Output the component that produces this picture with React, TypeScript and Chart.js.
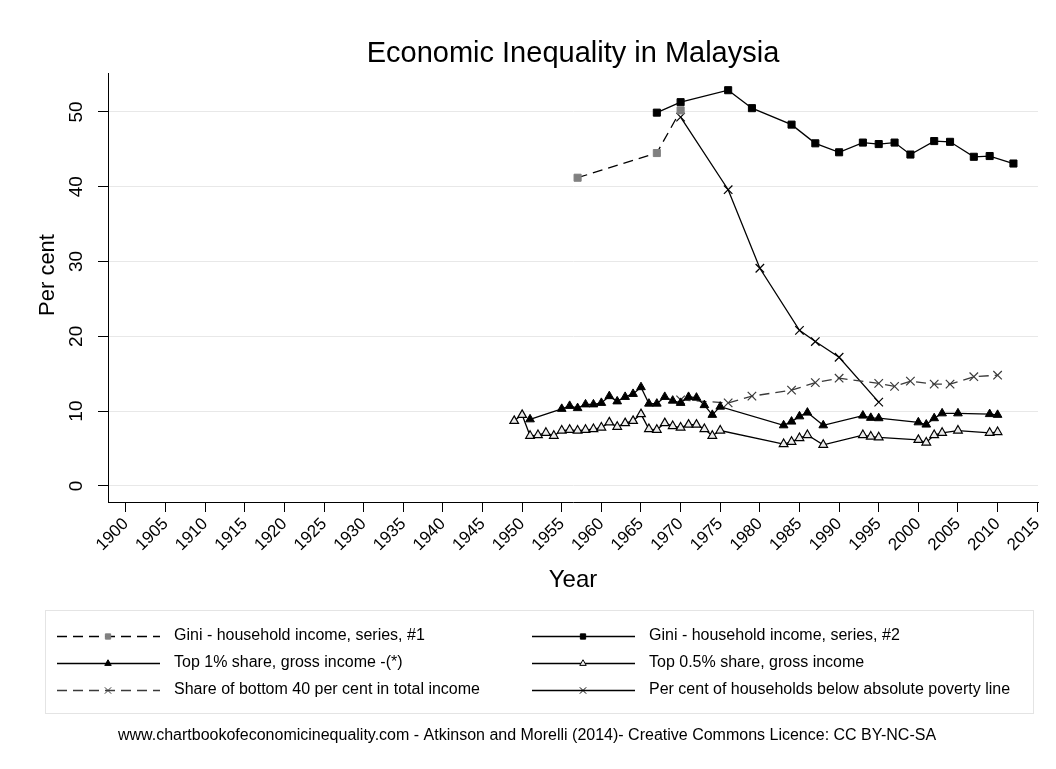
import React, { useEffect, useRef } from "react";
import { Chart, registerables } from "chart.js";
import { drawPoint } from "chart.js/helpers";

Chart.register(...registerables);

const FONT = "'Liberation Sans', Arial, Helvetica, sans-serif";

const TITLE = "Economic Inequality in Malaysia";
const Y_TITLE = "Per cent";
const X_TITLE = "Year";
const FOOTNOTE =
  "www.chartbookofeconomicinequality.com - Atkinson and Morelli (2014)- Creative Commons Licence: CC BY-NC-SA";

const xTickValues = [
  1900, 1905, 1910, 1915, 1920, 1925, 1930, 1935, 1940, 1945, 1950, 1955, 1960,
  1965, 1970, 1975, 1980, 1985, 1990, 1995, 2000, 2005, 2010, 2015,
];
const yTickValues = [0, 10, 20, 30, 40, 50];

// Gini - household income, series #1
const giniAYears = [1957, 1967, 1970];
const giniAValues = [41.2, 44.5, 50.2];

// Gini - household income, series #2
const giniBYears = [1967, 1970, 1976, 1979, 1984, 1987, 1990, 1993, 1995, 1997, 1999, 2002, 2004, 2007, 2009, 2012];
const giniBValues = [49.9, 51.3, 52.9, 50.5, 48.3, 45.8, 44.6, 45.9, 45.7, 45.9, 44.3, 46.1, 46.0, 44.0, 44.1, 43.1];

// Top 1% share, gross income
const top1Years = [
  1951, 1955, 1956, 1957, 1958, 1959, 1960, 1961, 1962, 1963, 1964, 1965, 1966, 1967, 1968, 1969, 1970, 1971,
  1972, 1973, 1974, 1975, 1983, 1984, 1985, 1986, 1988, 1993, 1994, 1995, 2000, 2001, 2002, 2003, 2005, 2009, 2010,
];
const top1Values = [
  8.9, 10.3, 10.7, 10.4, 10.9, 10.9, 11.1, 12.0, 11.3, 11.9, 12.3, 13.2, 11.0, 11.0, 11.9, 11.4, 11.1, 11.9,
  11.8, 10.8, 9.5, 10.6, 8.1, 8.6, 9.3, 9.8, 8.1, 9.4, 9.1, 9.05, 8.5, 8.2, 9.05, 9.7, 9.7, 9.6, 9.5,
];

// Top 0.5% share, gross income
const top05Years = [
  1949, 1950, 1951, 1952, 1953, 1954, 1955, 1956, 1957, 1958, 1959, 1960, 1961, 1962, 1963, 1964, 1965, 1966,
  1967, 1968, 1969, 1970, 1971, 1972, 1973, 1974, 1975, 1983, 1984, 1985, 1986, 1988, 1993, 1994, 1995, 2000,
  2001, 2002, 2003, 2005, 2009, 2010,
];
const top05Values = [
  8.7, 9.5, 6.7, 6.8, 7.1, 6.7, 7.4, 7.5, 7.4, 7.5, 7.6, 7.8, 8.5, 7.9, 8.4, 8.7, 9.6, 7.6,
  7.5, 8.4, 8.0, 7.8, 8.2, 8.2, 7.6, 6.7, 7.4, 5.6, 5.9, 6.4, 6.8, 5.5, 6.8, 6.6, 6.5, 6.15,
  5.8, 6.8, 7.1, 7.4, 7.1, 7.2,
];

// Share of bottom 40 per cent in total income
const bottom40Years = [1970, 1976, 1979, 1984, 1987, 1990, 1995, 1997, 1999, 2002, 2004, 2007, 2010];
const bottom40Values = [11.5, 11.1, 12.0, 12.8, 13.8, 14.4, 13.7, 13.3, 14.0, 13.6, 13.6, 14.6, 14.8];

// Per cent of households below absolute poverty line
const povertyYears = [1970, 1976, 1980, 1985, 1987, 1990, 1995];
const povertyValues = [49.3, 39.6, 29.1, 20.8, 19.3, 17.2, 11.2];

const seriesLabels = [
  "Gini - household income, series, #1",
  "Gini - household income, series, #2",
  "Top 1% share, gross income -(*)",
  "Top 0.5% share, gross income",
  "Share of bottom 40 per cent in total income",
  "Per cent of households below absolute poverty line",
];

const toPoints = (xs: number[], ys: number[]) => xs.map((x, i) => ({ x, y: ys[i] }));

const decorPlugin = {
  id: "decor",
  afterDraw(chart: any) {
    const ctx: CanvasRenderingContext2D = chart.ctx;
    const area = chart.chartArea;
    ctx.save();
    ctx.fillStyle = "#000";

    // Title
    ctx.font = `29px ${FONT}`;
    ctx.textAlign = "center";
    ctx.textBaseline = "alphabetic";
    ctx.fillText(TITLE, (area.left + area.right) / 2, 62);

    // Y axis title
    ctx.save();
    ctx.translate(48, 275);
    ctx.rotate(-Math.PI / 2);
    ctx.font = `22px ${FONT}`;
    ctx.textAlign = "center";
    ctx.textBaseline = "middle";
    ctx.fillText(Y_TITLE, 0, 0);
    ctx.restore();

    // Legend box
    ctx.strokeStyle = "#e4e4e4";
    ctx.lineWidth = 1;
    ctx.strokeRect(45.5, 610.5, 988, 103);

    const rowsY = [636, 663, 690];
    const colMarker = [108, 583];
    chart.data.datasets.forEach((ds: any, i: number) => {
      const col = i % 2;
      const row = Math.floor(i / 2);
      const y = rowsY[row];
      const mx = colMarker[col];
      ctx.save();
      ctx.strokeStyle = ds.borderColor;
      ctx.lineWidth = 1.3;
      ctx.setLineDash(ds.borderDash || []);
      ctx.beginPath();
      ctx.moveTo(mx - 51, y + 0.5);
      ctx.lineTo(mx + 52, y + 0.5);
      ctx.stroke();
      ctx.setLineDash([]);
      ctx.fillStyle = ds.pointBackgroundColor;
      ctx.strokeStyle = ds.pointBorderColor;
      ctx.lineWidth = 1;
      drawPoint(ctx, { pointStyle: ds.pointStyle, radius: ds.pointRadius * 0.75, borderWidth: 1, rotation: 0 } as any, mx, y + 0.5);
      ctx.restore();
      ctx.font = `16px ${FONT}`;
      ctx.textAlign = "left";
      ctx.textBaseline = "middle";
      ctx.fillStyle = "#000";
      ctx.fillText(ds.label, mx + 66, y);
    });

    // Footnote
    ctx.font = `16px ${FONT}`;
    ctx.textAlign = "center";
    ctx.textBaseline = "middle";
    ctx.fillText(FOOTNOTE, 527, 736);
    ctx.restore();
  },
};

export default function App() {
  const canvasRef = useRef<HTMLCanvasElement | null>(null);

  useEffect(() => {
    document.body.style.margin = "0";
    const canvas = canvasRef.current;
    if (!canvas) return;

    const chart = new Chart(canvas, {
      type: "line",
      data: {
        datasets: [
          {
            label: seriesLabels[0],
            data: toPoints(giniAYears, giniAValues),
            borderColor: "#000000",
            borderWidth: 1.3,
            borderDash: [10, 6],
            pointStyle: "rect",
            pointRadius: 5,
            pointBackgroundColor: "#808080",
            pointBorderColor: "#808080",
            pointBorderWidth: 1,
          },
          {
            label: seriesLabels[1],
            data: toPoints(giniBYears, giniBValues),
            borderColor: "#000000",
            borderWidth: 1.3,
            pointStyle: "rect",
            pointRadius: 5,
            pointBackgroundColor: "#000000",
            pointBorderColor: "#000000",
            pointBorderWidth: 1,
          },
          {
            label: seriesLabels[2],
            data: toPoints(top1Years, top1Values),
            borderColor: "#000000",
            borderWidth: 1.3,
            pointStyle: "triangle",
            pointRadius: 5,
            pointBackgroundColor: "#000000",
            pointBorderColor: "#000000",
            pointBorderWidth: 1,
          },
          {
            label: seriesLabels[3],
            data: toPoints(top05Years, top05Values),
            borderColor: "#000000",
            borderWidth: 1.3,
            pointStyle: "triangle",
            pointRadius: 5,
            pointBackgroundColor: "#ececec",
            pointBorderColor: "#000000",
            pointBorderWidth: 1.2,
          },
          {
            label: seriesLabels[4],
            data: toPoints(bottom40Years, bottom40Values),
            borderColor: "#3a3a3a",
            borderWidth: 1.3,
            borderDash: [10, 6],
            pointStyle: "crossRot",
            pointRadius: 6,
            pointBackgroundColor: "#3a3a3a",
            pointBorderColor: "#3a3a3a",
            pointBorderWidth: 1.2,
          },
          {
            label: seriesLabels[5],
            data: toPoints(povertyYears, povertyValues),
            borderColor: "#000000",
            borderWidth: 1.3,
            pointStyle: "crossRot",
            pointRadius: 6,
            pointBackgroundColor: "#000000",
            pointBorderColor: "#000000",
            pointBorderWidth: 1.2,
          },
        ],
      },
      options: {
        animation: false,
        responsive: false,
        maintainAspectRatio: false,
        devicePixelRatio: 1,
        layout: { padding: { left: 0, top: 73, right: 18, bottom: 169 } },
        plugins: {
          legend: { display: false },
          title: { display: false },
          tooltip: { enabled: false },
        },
        elements: { line: { tension: 0 } },
        scales: {
          x: {
            type: "linear",
            min: 1897.74,
            max: 2015.1,
            afterBuildTicks: (s: any) => {
              s.ticks = xTickValues.map((v) => ({ value: v }));
            },
            afterFit: (s: any) => {
              s.height = 98;
              s.paddingLeft = 0;
              s.paddingRight = 0;
              s.paddingTop = 0;
              s.paddingBottom = 0;
            },
            grid: {
              display: true,
              drawOnChartArea: false,
              drawTicks: true,
              tickLength: 10,
              tickColor: "#000000",
              tickWidth: 1,
            },
            border: { display: true, color: "#000000", width: 1 },
            ticks: {
              autoSkip: false,
              minRotation: 45,
              maxRotation: 45,
              color: "#000000",
              padding: 2,
              font: { family: FONT, size: 17 },
              callback: (v: any) => String(v),
            },
            title: {
              display: true,
              text: X_TITLE,
              color: "#000000",
              font: { family: FONT, size: 24, lineHeight: 1 },
              padding: { top: 0, bottom: 8 },
            },
          },
          y: {
            type: "linear",
            min: -2.15,
            max: 55.2,
            afterBuildTicks: (s: any) => {
              s.ticks = yTickValues.map((v) => ({ value: v }));
            },
            afterFit: (s: any) => {
              s.width = 108;
              s.paddingLeft = 0;
              s.paddingRight = 0;
              s.paddingTop = 0;
              s.paddingBottom = 0;
            },
            grid: {
              color: "#e8e8e8",
              lineWidth: 1,
              drawTicks: true,
              tickLength: 10,
              tickColor: "#000000",
              tickWidth: 1,
            },
            border: { display: true, color: "#000000", width: 1 },
            ticks: {
              color: "#000000",
              minRotation: 90,
              maxRotation: 90,
              crossAlign: "center",
              padding: 11,
              font: { family: FONT, size: 19 },
              callback: (v: any) => String(v),
            },
          },
        },
      },
      plugins: [decorPlugin],
    } as any);

    return () => {
      chart.destroy();
    };
  }, []);

  return (
    <div style={{ width: 1056, height: 769, background: "#fff" }}>
      <canvas ref={canvasRef} width={1056} height={769} style={{ display: "block" }} />
    </div>
  );
}
